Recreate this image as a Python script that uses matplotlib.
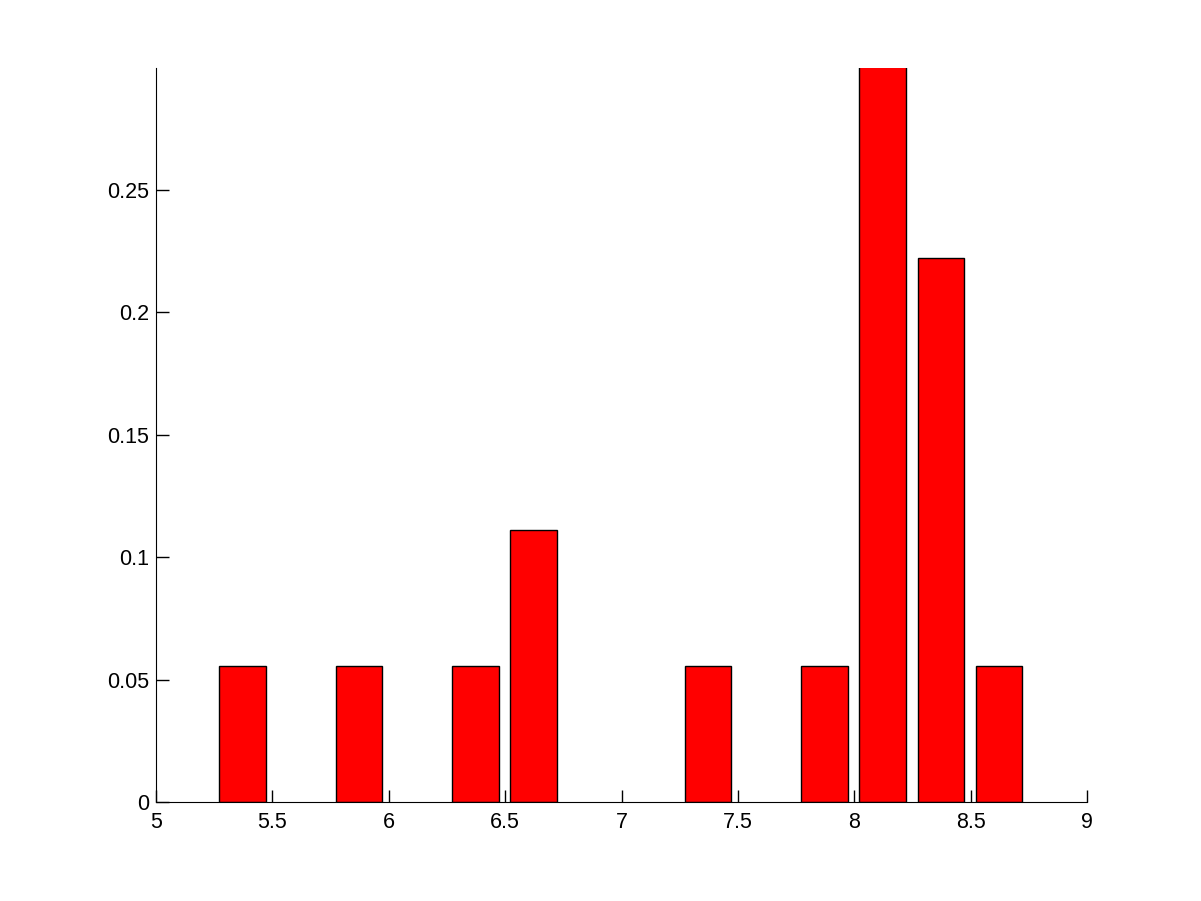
import matplotlib
matplotlib.use("Agg")
import matplotlib.pyplot as plt

# centros de los bins (solo los no vacios) y frecuencia relativa
centros = [5.372, 5.872, 6.372, 6.622, 7.372, 7.872, 8.122, 8.372, 8.622]
frecuencias = [0.0556, 0.0556, 0.0556, 0.1111, 0.0556, 0.0556, 0.3333, 0.2222, 0.0556]
xticks = [5, 5.5, 6, 6.5, 7, 7.5, 8, 8.5, 9]
yticks = [0, 0.05, 0.1, 0.15, 0.2, 0.25]

plt.rcParams['font.family'] = ['Liberation Sans', 'DejaVu Sans']

fig = plt.figure(figsize=(12.01, 9.01), dpi=100)
ax = fig.add_axes([0.13, 0.11, 0.775, 0.815])

ax.bar(centros, frecuencias, width=0.2, color="red", edgecolor="black", linewidth=1)

ax.set_xlim(5, 9)
ax.set_ylim(0, 0.3)
ax.set_xticks(xticks)
ax.set_xticklabels([f"{t:g}" for t in xticks])
ax.set_yticks(yticks)
ax.set_yticklabels([f"{t:g}" for t in yticks])
ax.tick_params(direction="in", length=9, width=1, labelsize=15.5)
ax.tick_params(axis="x", pad=7.5)
ax.tick_params(axis="y", pad=5)

ax.spines["top"].set_visible(False)
ax.spines["right"].set_visible(False)

fig.savefig("out.png", dpi=100)
